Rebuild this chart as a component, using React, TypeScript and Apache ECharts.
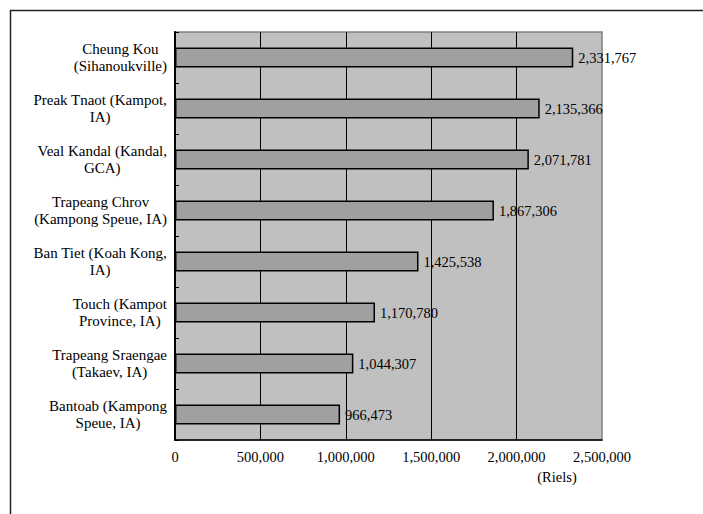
import React, { useEffect, useRef } from "react";
import * as echarts from "echarts";

// Sites, listed top to bottom
const categories: string[] = [
  "Cheung Kou\n(Sihanoukville)",
  "Preak Tnaot (Kampot,\nIA)",
  "Veal Kandal (Kandal,\nGCA)",
  "Trapeang Chrov\n(Kampong Speue, IA)",
  "Ban Tiet (Koah Kong,\nIA)",
  "Touch (Kampot\nProvince, IA)",
  "Trapeang Sraengae\n(Takaev, IA)",
  "Bantoab (Kampong\nSpeue, IA)",
];

// Values in Riels
const values: number[] = [2331767, 2135366, 2071781, 1867306, 1425538, 1170780, 1044307, 966473];

const axisMin = 0;
const axisMax = 2500000;
const axisStep = 500000;
const unitLabel = "(Riels)";

const FONT = "Liberation Serif";
const fmt = (n: number) => n.toLocaleString("en-US");

export default function App() {
  const ref = useRef<HTMLDivElement>(null);

  useEffect(() => {
    if (!ref.current) return;
    const chart = echarts.init(ref.current, undefined, { renderer: "svg" });
    chart.setOption({
      animation: false,
      backgroundColor: "#ffffff",
      textStyle: { fontFamily: FONT },
      grid: {
        left: 175,
        right: 101,
        top: 32,
        bottom: 74,
        show: true,
        backgroundColor: "#c0c0c0",
        borderColor: "#808080",
        borderWidth: 1.5,
      },
      xAxis: {
        type: "value",
        min: axisMin,
        max: axisMax,
        interval: axisStep,
        axisLine: { show: true, lineStyle: { color: "#000", width: 1.5 } },
        axisTick: { show: false },
        splitLine: {
          show: true,
          showMinLine: false,
          showMaxLine: false,
          lineStyle: { color: "#000", width: 1 },
        },
        axisLabel: {
          color: "#000",
          fontFamily: FONT,
          fontSize: 14.5,
          margin: 9,
          formatter: (v: number) => fmt(v),
        },
      },
      yAxis: {
        type: "category",
        inverse: true,
        data: categories,
        axisLine: { show: true, lineStyle: { color: "#000", width: 2 } },
        axisTick: { show: true, inside: true, length: 4, lineStyle: { color: "#000" } },
        axisLabel: {
          color: "#000",
          fontFamily: FONT,
          fontSize: 15,
          margin: 8,
          align: "right",
          lineHeight: 17,
          formatter: (v: string) =>
            v
              .split("\n")
              .map((l) => `{c|${l}}`)
              .join("\n"),
          rich: {
            c: {
              align: "center",
              fontFamily: FONT,
              fontSize: 15,
              lineHeight: 17,
              color: "#000",
            },
          },
        },
      },
      series: [
        {
          type: "bar",
          data: values,
          barWidth: 20,
          itemStyle: { color: "#a0a0a0", borderColor: "#000", borderWidth: 1.5 },
          label: {
            show: true,
            position: "right",
            distance: 5,
            color: "#000",
            fontFamily: FONT,
            fontSize: 14.5,
            formatter: (p: any) => fmt(p.value),
          },
        },
      ],
      graphic: [
        {
          type: "rect",
          shape: { x: 10.5, y: 10.5, width: 900, height: 700 },
          style: { fill: "none", stroke: "#222", lineWidth: 1.5 },
          silent: true,
        },
        {
          type: "text",
          x: 557,
          y: 477,
          style: {
            text: unitLabel,
            fill: "#000",
            fontFamily: FONT,
            fontSize: 14.5,
            textAlign: "center",
            textVerticalAlign: "middle",
          },
        },
      ],
    });
    return () => chart.dispose();
  }, []);

  return (
    <div
      ref={ref}
      style={{ position: "fixed", left: 0, top: 0, width: 703, height: 514 }}
    />
  );
}
